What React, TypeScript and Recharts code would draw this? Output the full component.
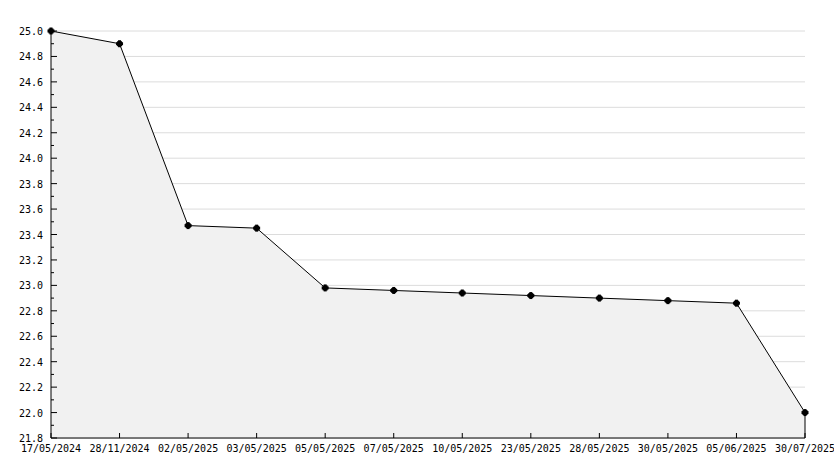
import { AreaChart, Area, XAxis, YAxis, CartesianGrid, ReferenceLine } from 'recharts';

const dates = [
  '17/05/2024', '28/11/2024', '02/05/2025', '03/05/2025', '05/05/2025', '07/05/2025',
  '10/05/2025', '23/05/2025', '28/05/2025', '30/05/2025', '05/06/2025', '30/07/2025',
];
const values = [25.0, 24.9, 23.47, 23.45, 22.98, 22.96, 22.94, 22.92, 22.9, 22.88, 22.86, 22.0];

const yMin = 21.8;
const yMax = 25.0;
// every 0.1 gets a tick, every 0.2 gets a label and a grid line
const yTicks = Array.from({ length: 33 }, (_, i) => Math.round((yMin + i * 0.1) * 10) / 10);
const majorTicks = yTicks.filter((_, i) => i % 2 === 0);

const data = dates.map((d, i) => ({ date: d, value: values[i] }));

const font = '"DejaVu Sans Mono", monospace';

function YTick(props: any) {
  const { x, y, index } = props;
  const major = index % 2 === 0;
  return (
    <g>
      <line x1={x} y1={y} x2={x + (major ? 6 : 3)} y2={y} stroke="#000" />
      {major && (
        <text x={x - 8} y={y + 4} textAnchor="end" fontSize={10} fontFamily={font} fill="#000">
          {Number(props.payload.value).toFixed(1)}
        </text>
      )}
    </g>
  );
}

function XTick(props: any) {
  const { x, y, payload } = props;
  return (
    <g>
      <line x1={x} y1={y} x2={x} y2={y - 5} stroke="#000" />
      <text x={x} y={y + 14} textAnchor="middle" fontSize={10} fontFamily={font} fill="#000">
        {payload.value}
      </text>
    </g>
  );
}

// small square-ish marker like the original
function Marker(props: any) {
  const { cx, cy } = props;
  return (
    <g>
      <rect x={cx - 2.5} y={cy - 2.5} width={5} height={5} fill="#000" />
      <rect x={cx - 1.5} y={cy - 3.5} width={3} height={7} fill="#000" />
      <rect x={cx - 3.5} y={cy - 1.5} width={7} height={3} fill="#000" />
    </g>
  );
}

// grid only on the labelled values, mapped linearly over the plot area
function gridRows({ offset }: any) {
  return majorTicks.map((v) => offset.top + ((yMax - v) / (yMax - yMin)) * offset.height);
}

export default function App() {
  return (
    <div style={{ position: 'absolute', left: 0, top: 0, width: 834, height: 468, background: '#fff', overflow: 'visible' }}>
      <AreaChart width={834} height={468} data={data} margin={{ top: 31, right: 29, left: 0, bottom: 0 }} style={{ overflow: 'visible' }}>
        <CartesianGrid vertical={false} stroke="#dcdcdc" horizontalCoordinatesGenerator={gridRows} />
        <XAxis
          dataKey="date"
          height={30}
          interval={0}
          tickSize={0}
          tickMargin={0}
          tickLine={false}
          axisLine={{ stroke: '#000' }}
          tick={<XTick />}
        />
        <YAxis
          width={51}
          domain={[yMin, yMax]}
          ticks={yTicks}
          interval={0}
          tickSize={0}
          tickMargin={0}
          tickLine={false}
          axisLine={{ stroke: '#000' }}
          tick={<YTick />}
        />
        <Area
          type="linear"
          dataKey="value"
          stroke="#000"
          strokeWidth={1}
          fill="#f1f1f1"
          fillOpacity={1}
          dot={<Marker />}
          activeDot={false}
          isAnimationActive={false}
        />
        <ReferenceLine
          segment={[{ x: dates[dates.length - 1], y: yMin }, { x: dates[dates.length - 1], y: values[values.length - 1] }]}
          stroke="#000"
        />
      </AreaChart>
    </div>
  );
}
